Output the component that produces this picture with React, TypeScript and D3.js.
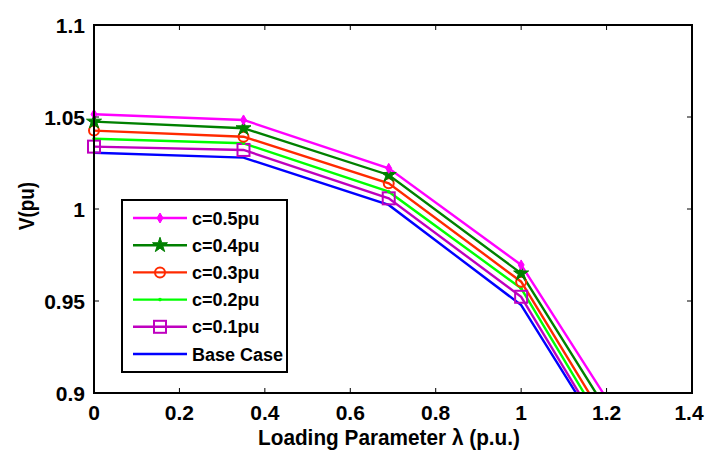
import React, { useRef, useEffect } from 'react';
import * as d3 from 'd3';

const lambdas = [0, 0.35, 0.69, 1.0, 1.2];

const seriesNames = ['c=0.5pu', 'c=0.4pu', 'c=0.3pu', 'c=0.2pu', 'c=0.1pu', 'Base Case'];
const seriesColors = ['#ff00ff', '#008000', '#ff2a00', '#00ff00', '#bf00bf', '#0000ff'];
const seriesMarkers = ['diamond', 'star', 'circle', 'dot', 'square', 'none'];

const v05 = [1.0515, 1.0484, 1.0221, 0.9696, 0.897];
const v04 = [1.0475, 1.0439, 1.0185, 0.965, 0.8908];
const v03 = [1.0426, 1.0393, 1.014, 0.9605, 0.8844];
const v02 = [1.0382, 1.0357, 1.0094, 0.9569, 0.8796];
const v01 = [1.0339, 1.0321, 1.0058, 0.9523, 0.8751];
const vBase = [1.0306, 1.0279, 1.0022, 0.9478, 0.8734];

const xTicks = [0, 0.2, 0.4, 0.6, 0.8, 1, 1.2, 1.4];
const yTicks = [0.9, 0.95, 1, 1.05, 1.1];

const allSeries = [v05, v04, v03, v02, v01, vBase];

const FONT = '"Liberation Sans", Arial, sans-serif';

const App = () => {
  const svgRef = useRef(null);
  const W = 706;
  const H = 453;

  useEffect(() => {
    document.body.style.margin = '0';
    document.body.style.overflow = 'hidden';

    const svg = d3.select(svgRef.current);
    svg.selectAll('*').remove();

    const left = 94, right = 692, top = 25, bottom = 393;
    const x = d3.scaleLinear().domain([0, 1.4]).range([left, right]);
    const y = d3.scaleLinear().domain([0.9, 1.1]).range([bottom, top]);

    svg.append('rect').attr('width', W).attr('height', H).attr('fill', '#fff');

    svg.append('defs').append('clipPath').attr('id', 'plotclip')
      .append('rect').attr('x', left).attr('y', top)
      .attr('width', right - left).attr('height', bottom - top);

    const drawMarker = (g, kind, color, cx, cy) => {
      if (kind === 'diamond') {
        g.append('path')
          .attr('d', `M${cx},${cy - 5}L${cx + 3},${cy}L${cx},${cy + 5}L${cx - 3},${cy}Z`)
          .attr('fill', color).attr('stroke', color).attr('stroke-width', 1);
      } else if (kind === 'star') {
        g.append('path')
          .attr('d', d3.symbol().type(d3.symbolStar).size(70)())
          .attr('transform', `translate(${cx},${cy})`)
          .attr('fill', color).attr('stroke', color).attr('stroke-width', 1);
      } else if (kind === 'circle') {
        g.append('circle').attr('cx', cx).attr('cy', cy).attr('r', 5)
          .attr('fill', 'none').attr('stroke', color).attr('stroke-width', 2);
      } else if (kind === 'dot') {
        g.append('circle').attr('cx', cx).attr('cy', cy).attr('r', 1.8)
          .attr('fill', color);
      } else if (kind === 'square') {
        g.append('rect').attr('x', cx - 6).attr('y', cy - 6)
          .attr('width', 12).attr('height', 12)
          .attr('fill', 'none').attr('stroke', color).attr('stroke-width', 2);
      }
    };

    // lines, back to front so magenta sits on top
    const plot = svg.append('g').attr('clip-path', 'url(#plotclip)');
    const line = d3.line().x((d) => x(d[0])).y((d) => y(d[1]));
    for (let i = allSeries.length - 1; i >= 0; i--) {
      const pts = lambdas.map((l, j) => [l, allSeries[i][j]]);
      plot.append('path').attr('d', line(pts))
        .attr('fill', 'none').attr('stroke', seriesColors[i]).attr('stroke-width', 2.4);
    }
    const markerLayer = svg.append('g');
    for (let i = allSeries.length - 1; i >= 0; i--) {
      lambdas.forEach((l, j) => {
        if (l > 1.15) return;
        drawMarker(markerLayer, seriesMarkers[i], seriesColors[i], x(l), y(allSeries[i][j]));
      });
    }

    // axes box and ticks
    const axes = svg.append('g');
    axes.append('rect').attr('x', left).attr('y', top)
      .attr('width', right - left).attr('height', bottom - top)
      .attr('fill', 'none').attr('stroke', '#000').attr('stroke-width', 2);

    xTicks.forEach((t) => {
      axes.append('line').attr('x1', x(t)).attr('x2', x(t)).attr('y1', bottom).attr('y2', bottom - 5)
        .attr('stroke', '#000').attr('stroke-width', 1);
      axes.append('line').attr('x1', x(t)).attr('x2', x(t)).attr('y1', top).attr('y2', top + 5)
        .attr('stroke', '#000').attr('stroke-width', 1);
      axes.append('text').attr('x', x(t) - (t === 1.4 ? 3 : 0)).attr('y', bottom + 27)
        .attr('text-anchor', 'middle').attr('font-family', FONT)
        .attr('font-weight', 'bold').attr('font-size', 21).text(d3.format('~g')(t));
    });
    yTicks.forEach((t) => {
      axes.append('line').attr('x1', left).attr('x2', left + 5).attr('y1', y(t)).attr('y2', y(t))
        .attr('stroke', '#000').attr('stroke-width', 1);
      axes.append('line').attr('x1', right).attr('x2', right - 5).attr('y1', y(t)).attr('y2', y(t))
        .attr('stroke', '#000').attr('stroke-width', 1);
      axes.append('text').attr('x', left - 9).attr('y', y(t) + 8)
        .attr('text-anchor', 'end').attr('font-family', FONT)
        .attr('font-weight', 'bold').attr('font-size', 21).text(d3.format('~g')(t));
    });

    axes.append('text').attr('x', 258).attr('y', 445)
      .attr('textLength', 262).attr('lengthAdjust', 'spacingAndGlyphs')
      .attr('font-family', FONT)
      .attr('font-weight', 'bold').attr('font-size', 22.5).text('Loading Parameter λ (p.u.)');
    axes.append('text').attr('transform', `translate(34,230) rotate(-90)`)
      .attr('textLength', 48).attr('lengthAdjust', 'spacingAndGlyphs')
      .attr('font-family', FONT)
      .attr('font-weight', 'bold').attr('font-size', 21.5).text('V(pu)');

    // legend
    const lg = svg.append('g');
    lg.append('rect').attr('x', 122).attr('y', 200).attr('width', 165).attr('height', 172)
      .attr('fill', '#fff').attr('stroke', '#000').attr('stroke-width', 2);
    seriesNames.forEach((name, i) => {
      const cy = 218 + i * 27.2;
      lg.append('line').attr('x1', 133).attr('x2', 187).attr('y1', cy).attr('y2', cy)
        .attr('stroke', seriesColors[i]).attr('stroke-width', 2.4);
      drawMarker(lg, seriesMarkers[i], seriesColors[i], 160, cy);
      lg.append('text').attr('x', 192).attr('y', cy + 6.5)
        .attr('font-family', FONT).attr('font-weight', 'bold').attr('font-size', 18)
        .text(name);
    });
  }, []);

  return (
    <div>
      <svg ref={svgRef} width={W} height={H}
        style={{ display: 'block', position: 'absolute', left: 0, top: 0 }}></svg>
    </div>
  );
};

export default App;
